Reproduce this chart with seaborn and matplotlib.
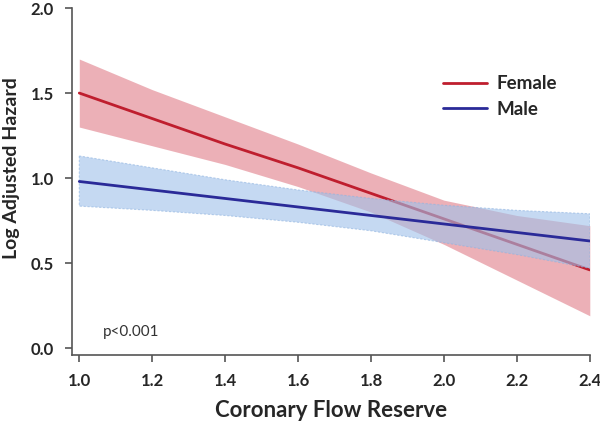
import pandas as pd
import matplotlib
matplotlib.use("Agg")
import matplotlib.pyplot as plt
import seaborn as sns

# values
cfr = [1.0, 1.2, 1.4, 1.6, 1.8, 2.0, 2.2, 2.4]
female_mean = [1.50, 1.35, 1.20, 1.06, 0.91, 0.76, 0.61, 0.46]
female_upper = [1.70, 1.52, 1.36, 1.20, 1.03, 0.87, 0.78, 0.72]
female_lower = [1.30, 1.19, 1.08, 0.95, 0.80, 0.61, 0.40, 0.19]
male_mean = [0.98, 0.93, 0.88, 0.83, 0.78, 0.73, 0.68, 0.63]
male_upper = [1.13, 1.06, 0.99, 0.93, 0.88, 0.84, 0.81, 0.79]
male_lower = [0.835, 0.81, 0.78, 0.74, 0.69, 0.62, 0.55, 0.47]

x_ticks = [1.0, 1.2, 1.4, 1.6, 1.8, 2.0, 2.2, 2.4]
y_ticks = [0.0, 0.5, 1.0, 1.5, 2.0]

df = pd.DataFrame({
    "CFR": cfr + cfr,
    "Hazard": female_mean + male_mean,
    "Sex": ["Female"] * len(cfr) + ["Male"] * len(cfr),
})

sns.set_style("ticks")
plt.rcParams["font.family"] = ["Lato", "DejaVu Sans"]

red = "#bf1e2e"
blue = "#2a2a98"

fig = plt.figure(figsize=(6, 4.23), dpi=100)
ax = fig.add_axes([0.12, 0.161, 0.863, 0.82])

# female band and line first, male band drawn over it
ax.fill_between(cfr, female_lower, female_upper, color="#e9a3ab", alpha=0.85, lw=0, zorder=1)
sns.lineplot(data=df[df["Sex"] == "Female"], x="CFR", y="Hazard", color=red, lw=2,
             ax=ax, label="Female", zorder=2)
ax.fill_between(cfr, male_lower, male_upper, color="#9fc1ea", alpha=0.6, lw=0.8,
                edgecolor="#8fb3e0", linestyle=(0, (2, 1.5)), zorder=3)
sns.lineplot(data=df[df["Sex"] == "Male"], x="CFR", y="Hazard", color=blue, lw=2,
             ax=ax, label="Male", zorder=4)

ax.set_xlim(0.98, 2.4)
ax.set_ylim(-0.04, 2.0)
ax.set_xticks(x_ticks)
ax.set_yticks(y_ticks)
ax.set_xticklabels([f"{v:.1f}" for v in x_ticks], fontweight="bold", fontsize=12)
ax.set_yticklabels([f"{v:.1f}" for v in y_ticks], fontweight="bold", fontsize=12)
ax.set_xlabel("Coronary Flow Reserve", fontweight="bold", fontsize=16, labelpad=8)
ax.set_ylabel("Log Adjusted Hazard", fontweight="bold", fontsize=14)
ax.yaxis.set_label_coords(-0.1, 0.54)

for side in ["top", "right"]:
    ax.spines[side].set_visible(False)
for side in ["left", "bottom"]:
    ax.spines[side].set_color("#555555")
    ax.spines[side].set_linewidth(1.2)
ax.tick_params(axis="both", length=5, width=1.2, color="#555555", pad=8)

ax.text(1.065, 0.07, "p<0.001", fontsize=11, color="#333333")

ax.legend(loc="upper left", bbox_to_anchor=(0.726, 0.84), bbox_transform=fig.transFigure,
          borderaxespad=0, frameon=False, handlelength=2.35, handletextpad=0.5,
          labelspacing=0.45, prop={"weight": "bold", "size": 13.5})

fig.savefig("out.png", dpi=100)
